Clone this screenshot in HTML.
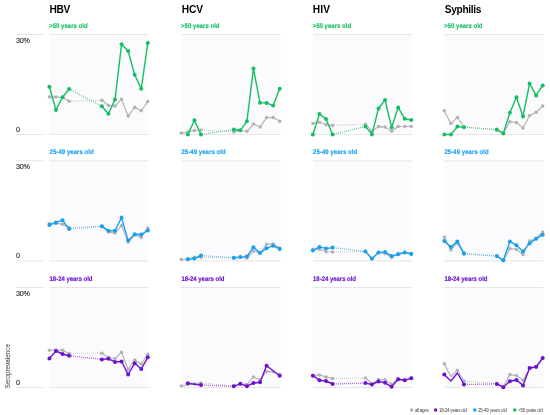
<!DOCTYPE html>
<html><head><meta charset="utf-8"><style>
html,body{margin:0;padding:0;background:#fff;width:550px;height:415px;overflow:hidden}
svg{display:block;will-change:transform}
text{font-family:"Liberation Sans",sans-serif}
.t{font-size:10.2px;font-weight:bold;fill:#000}
.s{font-size:6px;font-weight:bold;text-rendering:geometricPrecision;stroke-width:0.12px}
.a{font-size:7.2px;fill:#333;stroke:#333;stroke-width:0.15px}
.y{font-size:7.3px;fill:#2e2e2e}
.l{font-size:4.5px;fill:#444}
.g{stroke:#e6e6e9;stroke-width:1}
</style></head><body>
<svg width="550" height="415" viewBox="0 0 550 415">
<text x="49.47" y="12.6" class="t" textLength="20.85" lengthAdjust="spacing">HBV</text>
<text x="181.67" y="12.6" class="t" textLength="21.35" lengthAdjust="spacing">HCV</text>
<text x="312.67" y="12.6" class="t" textLength="17.35" lengthAdjust="spacing">HIV</text>
<text x="444.76" y="12.6" class="t" textLength="36.61" lengthAdjust="spacing">Syphilis</text>
<line x1="16" y1="34.5" x2="43.5" y2="34.5" class="g"/>
<line x1="16" y1="134.5" x2="43.5" y2="134.5" class="g"/>
<text x="16.08" y="42.7" class="a" textLength="13.83" lengthAdjust="spacing">30%</text>
<text x="16.07" y="131.8" class="a" textLength="4.26" lengthAdjust="spacing">0</text>
<rect x="49.5" y="34.5" width="99" height="100" fill="#fbfbfd"/>
<line x1="49.5" y1="34.5" x2="148.5" y2="34.5" class="g"/>
<line x1="49.5" y1="134.5" x2="148.5" y2="134.5" class="g"/>
<text transform="translate(49.2,27.55) scale(1,1.12)" class="s" textLength="38.45" lengthAdjust="spacing" fill="#14be63" stroke="#14be63">&gt;50 years old</text>
<rect x="181.4" y="34.5" width="99" height="100" fill="#fbfbfd"/>
<line x1="181.4" y1="34.5" x2="280.4" y2="34.5" class="g"/>
<line x1="181.4" y1="134.5" x2="280.4" y2="134.5" class="g"/>
<text transform="translate(181.1,27.55) scale(1,1.12)" class="s" textLength="38.45" lengthAdjust="spacing" fill="#14be63" stroke="#14be63">&gt;50 years old</text>
<rect x="313" y="34.5" width="99" height="100" fill="#fbfbfd"/>
<line x1="313" y1="34.5" x2="412" y2="34.5" class="g"/>
<line x1="313" y1="134.5" x2="412" y2="134.5" class="g"/>
<text transform="translate(312.7,27.55) scale(1,1.12)" class="s" textLength="38.45" lengthAdjust="spacing" fill="#14be63" stroke="#14be63">&gt;50 years old</text>
<rect x="444.4" y="34.5" width="99" height="100" fill="#fbfbfd"/>
<line x1="444.4" y1="34.5" x2="543.4" y2="34.5" class="g"/>
<line x1="444.4" y1="134.5" x2="543.4" y2="134.5" class="g"/>
<text transform="translate(444.1,27.55) scale(1,1.12)" class="s" textLength="38.45" lengthAdjust="spacing" fill="#14be63" stroke="#14be63">&gt;50 years old</text>
<line x1="16" y1="160.8" x2="43.5" y2="160.8" class="g"/>
<line x1="16" y1="261" x2="43.5" y2="261" class="g"/>
<text x="16.08" y="169" class="a" textLength="13.83" lengthAdjust="spacing">30%</text>
<text x="16.07" y="258.3" class="a" textLength="4.26" lengthAdjust="spacing">0</text>
<rect x="49.5" y="160.8" width="99" height="100.2" fill="#fbfbfd"/>
<line x1="49.5" y1="160.8" x2="148.5" y2="160.8" class="g"/>
<line x1="49.5" y1="261" x2="148.5" y2="261" class="g"/>
<text transform="translate(49.54,153.85) scale(1,1.12)" class="s" textLength="44.2" lengthAdjust="spacing" fill="#18a0f0" stroke="#18a0f0">25-49 years old</text>
<rect x="181.4" y="160.8" width="99" height="100.2" fill="#fbfbfd"/>
<line x1="181.4" y1="160.8" x2="280.4" y2="160.8" class="g"/>
<line x1="181.4" y1="261" x2="280.4" y2="261" class="g"/>
<text transform="translate(181.44,153.85) scale(1,1.12)" class="s" textLength="44.2" lengthAdjust="spacing" fill="#18a0f0" stroke="#18a0f0">25-49 years old</text>
<rect x="313" y="160.8" width="99" height="100.2" fill="#fbfbfd"/>
<line x1="313" y1="160.8" x2="412" y2="160.8" class="g"/>
<line x1="313" y1="261" x2="412" y2="261" class="g"/>
<text transform="translate(313.04,153.85) scale(1,1.12)" class="s" textLength="44.2" lengthAdjust="spacing" fill="#18a0f0" stroke="#18a0f0">25-49 years old</text>
<rect x="444.4" y="160.8" width="99" height="100.2" fill="#fbfbfd"/>
<line x1="444.4" y1="160.8" x2="543.4" y2="160.8" class="g"/>
<line x1="444.4" y1="261" x2="543.4" y2="261" class="g"/>
<text transform="translate(444.44,153.85) scale(1,1.12)" class="s" textLength="44.2" lengthAdjust="spacing" fill="#18a0f0" stroke="#18a0f0">25-49 years old</text>
<line x1="16" y1="287.5" x2="43.5" y2="287.5" class="g"/>
<line x1="16" y1="387.5" x2="43.5" y2="387.5" class="g"/>
<text x="16.08" y="295.7" class="a" textLength="13.83" lengthAdjust="spacing">30%</text>
<text x="16.07" y="384.8" class="a" textLength="4.26" lengthAdjust="spacing">0</text>
<rect x="49.5" y="287.5" width="99" height="100" fill="#fbfbfd"/>
<line x1="49.5" y1="287.5" x2="148.5" y2="287.5" class="g"/>
<line x1="49.5" y1="387.5" x2="148.5" y2="387.5" class="g"/>
<text transform="translate(49.57,280.55) scale(1,1.12)" class="s" textLength="42.97" lengthAdjust="spacing" fill="#6c10d2" stroke="#6c10d2">18-24 years old</text>
<rect x="181.4" y="287.5" width="99" height="100" fill="#fbfbfd"/>
<line x1="181.4" y1="287.5" x2="280.4" y2="287.5" class="g"/>
<line x1="181.4" y1="387.5" x2="280.4" y2="387.5" class="g"/>
<text transform="translate(181.47,280.55) scale(1,1.12)" class="s" textLength="42.97" lengthAdjust="spacing" fill="#6c10d2" stroke="#6c10d2">18-24 years old</text>
<rect x="313" y="287.5" width="99" height="100" fill="#fbfbfd"/>
<line x1="313" y1="287.5" x2="412" y2="287.5" class="g"/>
<line x1="313" y1="387.5" x2="412" y2="387.5" class="g"/>
<text transform="translate(313.07,280.55) scale(1,1.12)" class="s" textLength="42.97" lengthAdjust="spacing" fill="#6c10d2" stroke="#6c10d2">18-24 years old</text>
<rect x="444.4" y="287.5" width="99" height="100" fill="#fbfbfd"/>
<line x1="444.4" y1="287.5" x2="543.4" y2="287.5" class="g"/>
<line x1="444.4" y1="387.5" x2="543.4" y2="387.5" class="g"/>
<text transform="translate(444.47,280.55) scale(1,1.12)" class="s" textLength="42.97" lengthAdjust="spacing" fill="#6c10d2" stroke="#6c10d2">18-24 years old</text>
<path d="M71 100.63h1v1h-1zM73 100.57h1v1h-1zM75 100.5h1v1h-1zM77 100.44h1v1h-1zM79 100.38h1v1h-1zM81 100.32h1v1h-1zM83 100.26h1v1h-1zM85 100.2h1v1h-1zM87 100.14h1v1h-1zM89 100.08h1v1h-1zM91 100.02h1v1h-1zM93 99.96h1v1h-1zM95 99.89h1v1h-1zM97 99.83h1v1h-1zM99 99.77h1v1h-1z" fill="#b2b2b2" fill-opacity="0.65"/>
<polyline points="49.4,97.1 55.96,97.1 62.52,97.5 69.08,101.2" fill="none" stroke="#b2b2b2" stroke-width="1.15" stroke-linejoin="round"/>
<polyline points="101.88,100.2 108.44,105.5 115,106.1 121.56,99.2 128.12,116 134.68,107.3 141.24,110.8 147.8,101.5" fill="none" stroke="#b2b2b2" stroke-width="1.15" stroke-linejoin="round"/>
<circle cx="49.4" cy="97.1" r="1.75" fill="#b2b2b2"/>
<circle cx="55.96" cy="97.1" r="1.75" fill="#b2b2b2"/>
<circle cx="62.52" cy="97.5" r="1.75" fill="#b2b2b2"/>
<circle cx="69.08" cy="101.2" r="1.75" fill="#b2b2b2"/>
<circle cx="101.88" cy="100.2" r="1.75" fill="#b2b2b2"/>
<circle cx="108.44" cy="105.5" r="1.75" fill="#b2b2b2"/>
<circle cx="115" cy="106.1" r="1.75" fill="#b2b2b2"/>
<circle cx="121.56" cy="99.2" r="1.75" fill="#b2b2b2"/>
<circle cx="128.12" cy="116" r="1.75" fill="#b2b2b2"/>
<circle cx="134.68" cy="107.3" r="1.75" fill="#b2b2b2"/>
<circle cx="141.24" cy="110.8" r="1.75" fill="#b2b2b2"/>
<circle cx="147.8" cy="101.5" r="1.75" fill="#b2b2b2"/>
<path d="M71 226.82h1v1h-1zM73 226.75h1v1h-1zM75 226.68h1v1h-1zM77 226.62h1v1h-1zM79 226.55h1v1h-1zM81 226.48h1v1h-1zM83 226.42h1v1h-1zM85 226.35h1v1h-1zM87 226.28h1v1h-1zM89 226.21h1v1h-1zM91 226.15h1v1h-1zM93 226.08h1v1h-1zM95 226.01h1v1h-1zM97 225.95h1v1h-1zM99 225.88h1v1h-1z" fill="#b2b2b2" fill-opacity="0.65"/>
<polyline points="49.4,223.6 55.96,223.4 62.52,224.3 69.08,227.4" fill="none" stroke="#b2b2b2" stroke-width="1.15" stroke-linejoin="round"/>
<polyline points="101.88,226.3 108.44,232 115,233.1 121.56,225.6 128.12,242.1 134.68,235 141.24,237.4 147.8,227.9" fill="none" stroke="#b2b2b2" stroke-width="1.15" stroke-linejoin="round"/>
<circle cx="49.4" cy="223.6" r="1.75" fill="#b2b2b2"/>
<circle cx="55.96" cy="223.4" r="1.75" fill="#b2b2b2"/>
<circle cx="62.52" cy="224.3" r="1.75" fill="#b2b2b2"/>
<circle cx="69.08" cy="227.4" r="1.75" fill="#b2b2b2"/>
<circle cx="101.88" cy="226.3" r="1.75" fill="#b2b2b2"/>
<circle cx="108.44" cy="232" r="1.75" fill="#b2b2b2"/>
<circle cx="115" cy="233.1" r="1.75" fill="#b2b2b2"/>
<circle cx="121.56" cy="225.6" r="1.75" fill="#b2b2b2"/>
<circle cx="128.12" cy="242.1" r="1.75" fill="#b2b2b2"/>
<circle cx="134.68" cy="235" r="1.75" fill="#b2b2b2"/>
<circle cx="141.24" cy="237.4" r="1.75" fill="#b2b2b2"/>
<circle cx="147.8" cy="227.9" r="1.75" fill="#b2b2b2"/>
<path d="M71 352.89h1v1h-1zM73 352.89h1v1h-1zM75 352.88h1v1h-1zM77 352.87h1v1h-1zM79 352.87h1v1h-1zM81 352.86h1v1h-1zM83 352.86h1v1h-1zM85 352.85h1v1h-1zM87 352.84h1v1h-1zM89 352.84h1v1h-1zM91 352.83h1v1h-1zM93 352.83h1v1h-1zM95 352.82h1v1h-1zM97 352.81h1v1h-1zM99 352.81h1v1h-1z" fill="#b2b2b2" fill-opacity="0.65"/>
<polyline points="49.4,350.3 55.96,350 62.52,350.2 69.08,353.4" fill="none" stroke="#b2b2b2" stroke-width="1.15" stroke-linejoin="round"/>
<polyline points="101.88,353.3 108.44,357.3 115,358.7 121.56,352.2 128.12,369.5 134.68,360 141.24,364 147.8,354.3" fill="none" stroke="#b2b2b2" stroke-width="1.15" stroke-linejoin="round"/>
<circle cx="49.4" cy="350.3" r="1.75" fill="#b2b2b2"/>
<circle cx="55.96" cy="350" r="1.75" fill="#b2b2b2"/>
<circle cx="62.52" cy="350.2" r="1.75" fill="#b2b2b2"/>
<circle cx="69.08" cy="353.4" r="1.75" fill="#b2b2b2"/>
<circle cx="101.88" cy="353.3" r="1.75" fill="#b2b2b2"/>
<circle cx="108.44" cy="357.3" r="1.75" fill="#b2b2b2"/>
<circle cx="115" cy="358.7" r="1.75" fill="#b2b2b2"/>
<circle cx="121.56" cy="352.2" r="1.75" fill="#b2b2b2"/>
<circle cx="128.12" cy="369.5" r="1.75" fill="#b2b2b2"/>
<circle cx="134.68" cy="360" r="1.75" fill="#b2b2b2"/>
<circle cx="141.24" cy="364" r="1.75" fill="#b2b2b2"/>
<circle cx="147.8" cy="354.3" r="1.75" fill="#b2b2b2"/>
<path d="M202 129.59h1v1h-1zM204 129.7h1v1h-1zM206 129.82h1v1h-1zM208 129.93h1v1h-1zM210 130.05h1v1h-1zM212 130.17h1v1h-1zM214 130.28h1v1h-1zM216 130.4h1v1h-1zM218 130.51h1v1h-1zM220 130.63h1v1h-1zM222 130.75h1v1h-1zM224 130.86h1v1h-1zM226 130.98h1v1h-1zM228 131.09h1v1h-1zM230 131.21h1v1h-1z" fill="#b2b2b2" fill-opacity="0.65"/>
<polyline points="181.3,133.1 187.86,132 194.42,130.5 200.98,130" fill="none" stroke="#b2b2b2" stroke-width="1.15" stroke-linejoin="round"/>
<polyline points="233.78,131.9 240.34,130.5 246.9,131.3 253.46,124.1 260.02,127.1 266.58,117.6 273.14,117.6 279.7,121.3" fill="none" stroke="#b2b2b2" stroke-width="1.15" stroke-linejoin="round"/>
<circle cx="181.3" cy="133.1" r="1.75" fill="#b2b2b2"/>
<circle cx="187.86" cy="132" r="1.75" fill="#b2b2b2"/>
<circle cx="194.42" cy="130.5" r="1.75" fill="#b2b2b2"/>
<circle cx="200.98" cy="130" r="1.75" fill="#b2b2b2"/>
<circle cx="233.78" cy="131.9" r="1.75" fill="#b2b2b2"/>
<circle cx="240.34" cy="130.5" r="1.75" fill="#b2b2b2"/>
<circle cx="246.9" cy="131.3" r="1.75" fill="#b2b2b2"/>
<circle cx="253.46" cy="124.1" r="1.75" fill="#b2b2b2"/>
<circle cx="260.02" cy="127.1" r="1.75" fill="#b2b2b2"/>
<circle cx="266.58" cy="117.6" r="1.75" fill="#b2b2b2"/>
<circle cx="273.14" cy="117.6" r="1.75" fill="#b2b2b2"/>
<circle cx="279.7" cy="121.3" r="1.75" fill="#b2b2b2"/>
<path d="M202 256.93h1v1h-1zM204 256.96h1v1h-1zM206 257h1v1h-1zM208 257.04h1v1h-1zM210 257.07h1v1h-1zM212 257.11h1v1h-1zM214 257.15h1v1h-1zM216 257.18h1v1h-1zM218 257.22h1v1h-1zM220 257.26h1v1h-1zM222 257.29h1v1h-1zM224 257.33h1v1h-1zM226 257.37h1v1h-1zM228 257.4h1v1h-1zM230 257.44h1v1h-1z" fill="#b2b2b2" fill-opacity="0.65"/>
<polyline points="181.3,259.5 187.86,259 194.42,257.2 200.98,257.4" fill="none" stroke="#b2b2b2" stroke-width="1.15" stroke-linejoin="round"/>
<polyline points="233.78,258 240.34,257.2 246.9,258 253.46,251.1 260.02,253.1 266.58,244.3 273.14,244.1 279.7,248" fill="none" stroke="#b2b2b2" stroke-width="1.15" stroke-linejoin="round"/>
<circle cx="181.3" cy="259.5" r="1.75" fill="#b2b2b2"/>
<circle cx="187.86" cy="259" r="1.75" fill="#b2b2b2"/>
<circle cx="194.42" cy="257.2" r="1.75" fill="#b2b2b2"/>
<circle cx="200.98" cy="257.4" r="1.75" fill="#b2b2b2"/>
<circle cx="233.78" cy="258" r="1.75" fill="#b2b2b2"/>
<circle cx="240.34" cy="257.2" r="1.75" fill="#b2b2b2"/>
<circle cx="246.9" cy="258" r="1.75" fill="#b2b2b2"/>
<circle cx="253.46" cy="251.1" r="1.75" fill="#b2b2b2"/>
<circle cx="260.02" cy="253.1" r="1.75" fill="#b2b2b2"/>
<circle cx="266.58" cy="244.3" r="1.75" fill="#b2b2b2"/>
<circle cx="273.14" cy="244.1" r="1.75" fill="#b2b2b2"/>
<circle cx="279.7" cy="248" r="1.75" fill="#b2b2b2"/>
<path d="M202 382.54h1v1h-1zM204 382.73h1v1h-1zM206 382.92h1v1h-1zM208 383.11h1v1h-1zM210 383.3h1v1h-1zM212 383.49h1v1h-1zM214 383.68h1v1h-1zM216 383.86h1v1h-1zM218 384.05h1v1h-1zM220 384.24h1v1h-1zM222 384.43h1v1h-1zM224 384.62h1v1h-1zM226 384.81h1v1h-1zM228 385h1v1h-1zM230 385.19h1v1h-1z" fill="#b2b2b2" fill-opacity="0.65"/>
<polyline points="181.3,386.1 187.86,384.5 194.42,383.8 200.98,382.9" fill="none" stroke="#b2b2b2" stroke-width="1.15" stroke-linejoin="round"/>
<polyline points="233.78,386 240.34,384 246.9,384.4 253.46,377.1 260.02,379.8 266.58,371.4 273.14,371.8 279.7,374.5" fill="none" stroke="#b2b2b2" stroke-width="1.15" stroke-linejoin="round"/>
<circle cx="181.3" cy="386.1" r="1.75" fill="#b2b2b2"/>
<circle cx="187.86" cy="384.5" r="1.75" fill="#b2b2b2"/>
<circle cx="194.42" cy="383.8" r="1.75" fill="#b2b2b2"/>
<circle cx="200.98" cy="382.9" r="1.75" fill="#b2b2b2"/>
<circle cx="233.78" cy="386" r="1.75" fill="#b2b2b2"/>
<circle cx="240.34" cy="384" r="1.75" fill="#b2b2b2"/>
<circle cx="246.9" cy="384.4" r="1.75" fill="#b2b2b2"/>
<circle cx="253.46" cy="377.1" r="1.75" fill="#b2b2b2"/>
<circle cx="260.02" cy="379.8" r="1.75" fill="#b2b2b2"/>
<circle cx="266.58" cy="371.4" r="1.75" fill="#b2b2b2"/>
<circle cx="273.14" cy="371.8" r="1.75" fill="#b2b2b2"/>
<circle cx="279.7" cy="374.5" r="1.75" fill="#b2b2b2"/>
<path d="M334 124.83h1v1h-1zM336 124.76h1v1h-1zM338 124.68h1v1h-1zM340 124.61h1v1h-1zM342 124.54h1v1h-1zM344 124.46h1v1h-1zM346 124.39h1v1h-1zM348 124.32h1v1h-1zM350 124.24h1v1h-1zM352 124.17h1v1h-1zM354 124.1h1v1h-1zM356 124.02h1v1h-1zM358 123.95h1v1h-1zM360 123.88h1v1h-1zM362 123.81h1v1h-1z" fill="#b2b2b2" fill-opacity="0.65"/>
<polyline points="312.9,123.4 319.46,122.2 326.02,124.8 332.58,125.4" fill="none" stroke="#b2b2b2" stroke-width="1.15" stroke-linejoin="round"/>
<polyline points="365.38,124.2 371.94,131.3 378.5,126.6 385.06,126.9 391.62,131.2 398.18,126.5 404.74,126.5 411.3,126.4" fill="none" stroke="#b2b2b2" stroke-width="1.15" stroke-linejoin="round"/>
<circle cx="312.9" cy="123.4" r="1.75" fill="#b2b2b2"/>
<circle cx="319.46" cy="122.2" r="1.75" fill="#b2b2b2"/>
<circle cx="326.02" cy="124.8" r="1.75" fill="#b2b2b2"/>
<circle cx="332.58" cy="125.4" r="1.75" fill="#b2b2b2"/>
<circle cx="365.38" cy="124.2" r="1.75" fill="#b2b2b2"/>
<circle cx="371.94" cy="131.3" r="1.75" fill="#b2b2b2"/>
<circle cx="378.5" cy="126.6" r="1.75" fill="#b2b2b2"/>
<circle cx="385.06" cy="126.9" r="1.75" fill="#b2b2b2"/>
<circle cx="391.62" cy="131.2" r="1.75" fill="#b2b2b2"/>
<circle cx="398.18" cy="126.5" r="1.75" fill="#b2b2b2"/>
<circle cx="404.74" cy="126.5" r="1.75" fill="#b2b2b2"/>
<circle cx="411.3" cy="126.4" r="1.75" fill="#b2b2b2"/>
<path d="M334 251.46h1v1h-1zM336 251.43h1v1h-1zM338 251.39h1v1h-1zM340 251.36h1v1h-1zM342 251.32h1v1h-1zM344 251.28h1v1h-1zM346 251.25h1v1h-1zM348 251.21h1v1h-1zM350 251.17h1v1h-1zM352 251.14h1v1h-1zM354 251.1h1v1h-1zM356 251.06h1v1h-1zM358 251.03h1v1h-1zM360 250.99h1v1h-1zM362 250.95h1v1h-1z" fill="#b2b2b2" fill-opacity="0.65"/>
<polyline points="312.9,249.3 319.46,249.3 326.02,251.7 332.58,252" fill="none" stroke="#b2b2b2" stroke-width="1.15" stroke-linejoin="round"/>
<polyline points="365.38,251.4 371.94,258.2 378.5,252.6 385.06,253.5 391.62,257.4 398.18,253.5 404.74,252.4 411.3,253.3" fill="none" stroke="#b2b2b2" stroke-width="1.15" stroke-linejoin="round"/>
<circle cx="312.9" cy="249.3" r="1.75" fill="#b2b2b2"/>
<circle cx="319.46" cy="249.3" r="1.75" fill="#b2b2b2"/>
<circle cx="326.02" cy="251.7" r="1.75" fill="#b2b2b2"/>
<circle cx="332.58" cy="252" r="1.75" fill="#b2b2b2"/>
<circle cx="365.38" cy="251.4" r="1.75" fill="#b2b2b2"/>
<circle cx="371.94" cy="258.2" r="1.75" fill="#b2b2b2"/>
<circle cx="378.5" cy="252.6" r="1.75" fill="#b2b2b2"/>
<circle cx="385.06" cy="253.5" r="1.75" fill="#b2b2b2"/>
<circle cx="391.62" cy="257.4" r="1.75" fill="#b2b2b2"/>
<circle cx="398.18" cy="253.5" r="1.75" fill="#b2b2b2"/>
<circle cx="404.74" cy="252.4" r="1.75" fill="#b2b2b2"/>
<circle cx="411.3" cy="253.3" r="1.75" fill="#b2b2b2"/>
<path d="M334 377.88h1v1h-1zM336 377.85h1v1h-1zM338 377.83h1v1h-1zM340 377.8h1v1h-1zM342 377.78h1v1h-1zM344 377.75h1v1h-1zM346 377.73h1v1h-1zM348 377.71h1v1h-1zM350 377.68h1v1h-1zM352 377.66h1v1h-1zM354 377.63h1v1h-1zM356 377.61h1v1h-1zM358 377.58h1v1h-1zM360 377.56h1v1h-1zM362 377.54h1v1h-1z" fill="#b2b2b2" fill-opacity="0.65"/>
<polyline points="312.9,375.5 319.46,374.9 326.02,377 332.58,378.4" fill="none" stroke="#b2b2b2" stroke-width="1.15" stroke-linejoin="round"/>
<polyline points="365.38,378 371.94,383.7 378.5,379.5 385.06,379.7 391.62,384.2 398.18,379 404.74,380 411.3,378" fill="none" stroke="#b2b2b2" stroke-width="1.15" stroke-linejoin="round"/>
<circle cx="312.9" cy="375.5" r="1.75" fill="#b2b2b2"/>
<circle cx="319.46" cy="374.9" r="1.75" fill="#b2b2b2"/>
<circle cx="326.02" cy="377" r="1.75" fill="#b2b2b2"/>
<circle cx="332.58" cy="378.4" r="1.75" fill="#b2b2b2"/>
<circle cx="365.38" cy="378" r="1.75" fill="#b2b2b2"/>
<circle cx="371.94" cy="383.7" r="1.75" fill="#b2b2b2"/>
<circle cx="378.5" cy="379.5" r="1.75" fill="#b2b2b2"/>
<circle cx="385.06" cy="379.7" r="1.75" fill="#b2b2b2"/>
<circle cx="391.62" cy="384.2" r="1.75" fill="#b2b2b2"/>
<circle cx="398.18" cy="379" r="1.75" fill="#b2b2b2"/>
<circle cx="404.74" cy="380" r="1.75" fill="#b2b2b2"/>
<circle cx="411.3" cy="378" r="1.75" fill="#b2b2b2"/>
<path d="M465 126.61h1v1h-1zM467 126.75h1v1h-1zM469 126.89h1v1h-1zM471 127.03h1v1h-1zM473 127.17h1v1h-1zM475 127.31h1v1h-1zM477 127.45h1v1h-1zM479 127.59h1v1h-1zM481 127.73h1v1h-1zM483 127.87h1v1h-1zM485 128.01h1v1h-1zM487 128.15h1v1h-1zM489 128.29h1v1h-1zM491 128.43h1v1h-1zM493 128.57h1v1h-1z" fill="#b2b2b2" fill-opacity="0.65"/>
<polyline points="444.3,110.8 450.86,123.6 457.42,117.4 463.98,127" fill="none" stroke="#b2b2b2" stroke-width="1.15" stroke-linejoin="round"/>
<polyline points="496.78,129.3 503.34,133 509.9,121.8 516.46,122.5 523.02,127.9 529.58,115.5 536.14,112.3 542.7,106" fill="none" stroke="#b2b2b2" stroke-width="1.15" stroke-linejoin="round"/>
<circle cx="444.3" cy="110.8" r="1.75" fill="#b2b2b2"/>
<circle cx="450.86" cy="123.6" r="1.75" fill="#b2b2b2"/>
<circle cx="457.42" cy="117.4" r="1.75" fill="#b2b2b2"/>
<circle cx="463.98" cy="127" r="1.75" fill="#b2b2b2"/>
<circle cx="496.78" cy="129.3" r="1.75" fill="#b2b2b2"/>
<circle cx="503.34" cy="133" r="1.75" fill="#b2b2b2"/>
<circle cx="509.9" cy="121.8" r="1.75" fill="#b2b2b2"/>
<circle cx="516.46" cy="122.5" r="1.75" fill="#b2b2b2"/>
<circle cx="523.02" cy="127.9" r="1.75" fill="#b2b2b2"/>
<circle cx="529.58" cy="115.5" r="1.75" fill="#b2b2b2"/>
<circle cx="536.14" cy="112.3" r="1.75" fill="#b2b2b2"/>
<circle cx="542.7" cy="106" r="1.75" fill="#b2b2b2"/>
<path d="M465 254.07h1v1h-1zM467 254.16h1v1h-1zM469 254.25h1v1h-1zM471 254.34h1v1h-1zM473 254.43h1v1h-1zM475 254.53h1v1h-1zM477 254.62h1v1h-1zM479 254.71h1v1h-1zM481 254.8h1v1h-1zM483 254.89h1v1h-1zM485 254.98h1v1h-1zM487 255.08h1v1h-1zM489 255.17h1v1h-1zM491 255.26h1v1h-1zM493 255.35h1v1h-1z" fill="#b2b2b2" fill-opacity="0.65"/>
<polyline points="444.3,237.3 450.86,249.9 457.42,243.1 463.98,254.5" fill="none" stroke="#b2b2b2" stroke-width="1.15" stroke-linejoin="round"/>
<polyline points="496.78,256 503.34,260.8 509.9,248.6 516.46,249.4 523.02,254.5 529.58,241.1 536.14,238.5 542.7,232" fill="none" stroke="#b2b2b2" stroke-width="1.15" stroke-linejoin="round"/>
<circle cx="444.3" cy="237.3" r="1.75" fill="#b2b2b2"/>
<circle cx="450.86" cy="249.9" r="1.75" fill="#b2b2b2"/>
<circle cx="457.42" cy="243.1" r="1.75" fill="#b2b2b2"/>
<circle cx="463.98" cy="254.5" r="1.75" fill="#b2b2b2"/>
<circle cx="496.78" cy="256" r="1.75" fill="#b2b2b2"/>
<circle cx="503.34" cy="260.8" r="1.75" fill="#b2b2b2"/>
<circle cx="509.9" cy="248.6" r="1.75" fill="#b2b2b2"/>
<circle cx="516.46" cy="249.4" r="1.75" fill="#b2b2b2"/>
<circle cx="523.02" cy="254.5" r="1.75" fill="#b2b2b2"/>
<circle cx="529.58" cy="241.1" r="1.75" fill="#b2b2b2"/>
<circle cx="536.14" cy="238.5" r="1.75" fill="#b2b2b2"/>
<circle cx="542.7" cy="232" r="1.75" fill="#b2b2b2"/>
<path d="M465 380.61h1v1h-1zM467 380.77h1v1h-1zM469 380.92h1v1h-1zM471 381.07h1v1h-1zM473 381.22h1v1h-1zM475 381.38h1v1h-1zM477 381.53h1v1h-1zM479 381.68h1v1h-1zM481 381.83h1v1h-1zM483 381.99h1v1h-1zM485 382.14h1v1h-1zM487 382.29h1v1h-1zM489 382.44h1v1h-1zM491 382.6h1v1h-1zM493 382.75h1v1h-1z" fill="#b2b2b2" fill-opacity="0.65"/>
<polyline points="444.3,363.8 450.86,376.5 457.42,370.3 463.98,381" fill="none" stroke="#b2b2b2" stroke-width="1.15" stroke-linejoin="round"/>
<polyline points="496.78,383.5 503.34,387 509.9,374.6 516.46,375.6 523.02,380.2 529.58,368.5 536.14,367.5 542.7,358.5" fill="none" stroke="#b2b2b2" stroke-width="1.15" stroke-linejoin="round"/>
<circle cx="444.3" cy="363.8" r="1.75" fill="#b2b2b2"/>
<circle cx="457.42" cy="370.3" r="1.75" fill="#b2b2b2"/>
<circle cx="463.98" cy="381" r="1.75" fill="#b2b2b2"/>
<circle cx="496.78" cy="383.5" r="1.75" fill="#b2b2b2"/>
<circle cx="503.34" cy="387" r="1.75" fill="#b2b2b2"/>
<circle cx="509.9" cy="374.6" r="1.75" fill="#b2b2b2"/>
<circle cx="516.46" cy="375.6" r="1.75" fill="#b2b2b2"/>
<circle cx="523.02" cy="380.2" r="1.75" fill="#b2b2b2"/>
<circle cx="529.58" cy="368.5" r="1.75" fill="#b2b2b2"/>
<circle cx="536.14" cy="367.5" r="1.75" fill="#b2b2b2"/>
<circle cx="542.7" cy="358.5" r="1.75" fill="#b2b2b2"/>
<path d="M71 89.54h1v1.47h-1zM73 90.58h1v1.47h-1zM75 91.63h1v1.47h-1zM77 92.68h1v1.47h-1zM79 93.73h1v1.47h-1zM81 94.78h1v1.47h-1zM83 95.83h1v1.47h-1zM85 96.88h1v1.47h-1zM87 97.93h1v1.47h-1zM89 98.97h1v1.47h-1zM91 100.02h1v1.47h-1zM93 101.07h1v1.47h-1zM95 102.12h1v1.47h-1zM97 103.17h1v1.47h-1zM99 104.22h1v1.47h-1z" fill="#14be63" fill-opacity="0.6"/>
<polyline points="49.4,86.8 55.96,109.9 62.52,97.2 69.08,89" fill="none" stroke="#14be63" stroke-width="1.4" stroke-linejoin="round"/>
<polyline points="101.88,106.2 108.44,113.8 115,99.6 121.56,44.3 128.12,51 134.68,74.7 141.24,88.8 147.8,43.1" fill="none" stroke="#14be63" stroke-width="1.4" stroke-linejoin="round"/>
<circle cx="49.4" cy="86.8" r="2" fill="#14be63"/>
<circle cx="55.96" cy="109.9" r="2" fill="#14be63"/>
<circle cx="62.52" cy="97.2" r="2" fill="#14be63"/>
<circle cx="69.08" cy="89" r="2" fill="#14be63"/>
<circle cx="101.88" cy="106.2" r="2" fill="#14be63"/>
<circle cx="108.44" cy="113.8" r="2" fill="#14be63"/>
<circle cx="115" cy="99.6" r="2" fill="#14be63"/>
<circle cx="121.56" cy="44.3" r="2" fill="#14be63"/>
<circle cx="128.12" cy="51" r="2" fill="#14be63"/>
<circle cx="134.68" cy="74.7" r="2" fill="#14be63"/>
<circle cx="141.24" cy="88.8" r="2" fill="#14be63"/>
<circle cx="147.8" cy="43.1" r="2" fill="#14be63"/>
<path d="M71 228.15h1v1.3h-1zM73 227.98h1v1.3h-1zM75 227.82h1v1.3h-1zM77 227.65h1v1.3h-1zM79 227.49h1v1.3h-1zM81 227.33h1v1.3h-1zM83 227.16h1v1.3h-1zM85 227h1v1.3h-1zM87 226.83h1v1.3h-1zM89 226.67h1v1.3h-1zM91 226.5h1v1.3h-1zM93 226.34h1v1.3h-1zM95 226.17h1v1.3h-1zM97 226.01h1v1.3h-1zM99 225.84h1v1.3h-1z" fill="#18a0f0" fill-opacity="0.6"/>
<polyline points="49.4,225 55.96,222.4 62.52,220.2 69.08,229" fill="none" stroke="#18a0f0" stroke-width="1.4" stroke-linejoin="round"/>
<polyline points="101.88,226.3 108.44,230.7 115,230.7 121.56,217.6 128.12,240.6 134.68,234.3 141.24,234.5 147.8,230.5" fill="none" stroke="#18a0f0" stroke-width="1.4" stroke-linejoin="round"/>
<circle cx="49.4" cy="225" r="2" fill="#18a0f0"/>
<circle cx="55.96" cy="222.4" r="2" fill="#18a0f0"/>
<circle cx="62.52" cy="220.2" r="2" fill="#18a0f0"/>
<circle cx="69.08" cy="229" r="2" fill="#18a0f0"/>
<circle cx="101.88" cy="226.3" r="2" fill="#18a0f0"/>
<circle cx="108.44" cy="230.7" r="2" fill="#18a0f0"/>
<circle cx="115" cy="230.7" r="2" fill="#18a0f0"/>
<circle cx="121.56" cy="217.6" r="2" fill="#18a0f0"/>
<circle cx="128.12" cy="240.6" r="2" fill="#18a0f0"/>
<circle cx="134.68" cy="234.3" r="2" fill="#18a0f0"/>
<circle cx="141.24" cy="234.5" r="2" fill="#18a0f0"/>
<circle cx="147.8" cy="230.5" r="2" fill="#18a0f0"/>
<path d="M71 355.32h1v1.31h-1zM73 355.54h1v1.31h-1zM75 355.77h1v1.31h-1zM77 356h1v1.31h-1zM79 356.22h1v1.31h-1zM81 356.45h1v1.31h-1zM83 356.67h1v1.31h-1zM85 356.9h1v1.31h-1zM87 357.12h1v1.31h-1zM89 357.35h1v1.31h-1zM91 357.57h1v1.31h-1zM93 357.8h1v1.31h-1zM95 358.03h1v1.31h-1zM97 358.25h1v1.31h-1zM99 358.48h1v1.31h-1z" fill="#6c10d2" fill-opacity="0.6"/>
<polyline points="49.4,358.4 55.96,351 62.52,354 69.08,355.7" fill="none" stroke="#6c10d2" stroke-width="1.4" stroke-linejoin="round"/>
<polyline points="101.88,359.4 108.44,358.8 115,361.9 121.56,361.5 128.12,374.5 134.68,363.2 141.24,369 147.8,357.3" fill="none" stroke="#6c10d2" stroke-width="1.4" stroke-linejoin="round"/>
<circle cx="49.4" cy="358.4" r="2" fill="#6c10d2"/>
<circle cx="55.96" cy="351" r="2" fill="#6c10d2"/>
<circle cx="62.52" cy="354" r="2" fill="#6c10d2"/>
<circle cx="69.08" cy="355.7" r="2" fill="#6c10d2"/>
<circle cx="101.88" cy="359.4" r="2" fill="#6c10d2"/>
<circle cx="108.44" cy="358.8" r="2" fill="#6c10d2"/>
<circle cx="115" cy="361.9" r="2" fill="#6c10d2"/>
<circle cx="121.56" cy="361.5" r="2" fill="#6c10d2"/>
<circle cx="128.12" cy="374.5" r="2" fill="#6c10d2"/>
<circle cx="134.68" cy="363.2" r="2" fill="#6c10d2"/>
<circle cx="141.24" cy="369" r="2" fill="#6c10d2"/>
<circle cx="147.8" cy="357.3" r="2" fill="#6c10d2"/>
<path d="M202 133.61h1v1.32h-1zM204 133.31h1v1.32h-1zM206 133h1v1.32h-1zM208 132.7h1v1.32h-1zM210 132.39h1v1.32h-1zM212 132.09h1v1.32h-1zM214 131.78h1v1.32h-1zM216 131.48h1v1.32h-1zM218 131.17h1v1.32h-1zM220 130.87h1v1.32h-1zM222 130.56h1v1.32h-1zM224 130.26h1v1.32h-1zM226 129.95h1v1.32h-1zM228 129.65h1v1.32h-1zM230 129.34h1v1.32h-1z" fill="#14be63" fill-opacity="0.6"/>
<polyline points="187.86,134.5 194.42,120.3 200.98,134.5" fill="none" stroke="#14be63" stroke-width="1.4" stroke-linejoin="round"/>
<polyline points="233.78,129.5 240.34,130.3 246.9,121.3 253.46,68.6 260.02,102.8 266.58,102.9 273.14,105.6 279.7,88.8" fill="none" stroke="#14be63" stroke-width="1.4" stroke-linejoin="round"/>
<circle cx="187.86" cy="134.5" r="2" fill="#14be63"/>
<circle cx="194.42" cy="120.3" r="2" fill="#14be63"/>
<circle cx="200.98" cy="134.5" r="2" fill="#14be63"/>
<circle cx="233.78" cy="129.5" r="2" fill="#14be63"/>
<circle cx="240.34" cy="130.3" r="2" fill="#14be63"/>
<circle cx="246.9" cy="121.3" r="2" fill="#14be63"/>
<circle cx="253.46" cy="68.6" r="2" fill="#14be63"/>
<circle cx="260.02" cy="102.8" r="2" fill="#14be63"/>
<circle cx="266.58" cy="102.9" r="2" fill="#14be63"/>
<circle cx="273.14" cy="105.6" r="2" fill="#14be63"/>
<circle cx="279.7" cy="88.8" r="2" fill="#14be63"/>
<path d="M202 254.95h1v1.3h-1zM204 255.1h1v1.3h-1zM206 255.24h1v1.3h-1zM208 255.38h1v1.3h-1zM210 255.52h1v1.3h-1zM212 255.66h1v1.3h-1zM214 255.8h1v1.3h-1zM216 255.94h1v1.3h-1zM218 256.08h1v1.3h-1zM220 256.22h1v1.3h-1zM222 256.36h1v1.3h-1zM224 256.5h1v1.3h-1zM226 256.64h1v1.3h-1zM228 256.78h1v1.3h-1zM230 256.92h1v1.3h-1z" fill="#18a0f0" fill-opacity="0.6"/>
<polyline points="187.86,259.2 194.42,258.6 200.98,255.5" fill="none" stroke="#18a0f0" stroke-width="1.4" stroke-linejoin="round"/>
<polyline points="233.78,257.8 240.34,257.1 246.9,256.6 253.46,247.2 260.02,253.1 266.58,248.3 273.14,245.7 279.7,249" fill="none" stroke="#18a0f0" stroke-width="1.4" stroke-linejoin="round"/>
<circle cx="187.86" cy="259.2" r="2" fill="#18a0f0"/>
<circle cx="194.42" cy="258.6" r="2" fill="#18a0f0"/>
<circle cx="200.98" cy="255.5" r="2" fill="#18a0f0"/>
<circle cx="233.78" cy="257.8" r="2" fill="#18a0f0"/>
<circle cx="240.34" cy="257.1" r="2" fill="#18a0f0"/>
<circle cx="246.9" cy="256.6" r="2" fill="#18a0f0"/>
<circle cx="253.46" cy="247.2" r="2" fill="#18a0f0"/>
<circle cx="260.02" cy="253.1" r="2" fill="#18a0f0"/>
<circle cx="266.58" cy="248.3" r="2" fill="#18a0f0"/>
<circle cx="273.14" cy="245.7" r="2" fill="#18a0f0"/>
<circle cx="279.7" cy="249" r="2" fill="#18a0f0"/>
<path d="M202 384.51h1v1.3h-1zM204 384.58h1v1.3h-1zM206 384.65h1v1.3h-1zM208 384.72h1v1.3h-1zM210 384.8h1v1.3h-1zM212 384.87h1v1.3h-1zM214 384.94h1v1.3h-1zM216 385.02h1v1.3h-1zM218 385.09h1v1.3h-1zM220 385.16h1v1.3h-1zM222 385.24h1v1.3h-1zM224 385.31h1v1.3h-1zM226 385.38h1v1.3h-1zM228 385.46h1v1.3h-1zM230 385.53h1v1.3h-1z" fill="#6c10d2" fill-opacity="0.6"/>
<polyline points="187.86,383.3 194.42,384.2 200.98,385.1" fill="none" stroke="#6c10d2" stroke-width="1.4" stroke-linejoin="round"/>
<polyline points="233.78,386.3 240.34,383.8 246.9,386.2 253.46,383 260.02,382.3 266.58,365.7 273.14,370.75 279.7,375.8" fill="none" stroke="#6c10d2" stroke-width="1.4" stroke-linejoin="round"/>
<circle cx="187.86" cy="383.3" r="2" fill="#6c10d2"/>
<circle cx="200.98" cy="385.1" r="2" fill="#6c10d2"/>
<circle cx="233.78" cy="386.3" r="2" fill="#6c10d2"/>
<circle cx="240.34" cy="383.8" r="2" fill="#6c10d2"/>
<circle cx="246.9" cy="386.2" r="2" fill="#6c10d2"/>
<circle cx="253.46" cy="383" r="2" fill="#6c10d2"/>
<circle cx="260.02" cy="382.3" r="2" fill="#6c10d2"/>
<circle cx="266.58" cy="365.7" r="2" fill="#6c10d2"/>
<circle cx="279.7" cy="375.8" r="2" fill="#6c10d2"/>
<path d="M334 133.36h1v1.34h-1zM336 132.86h1v1.34h-1zM338 132.37h1v1.34h-1zM340 131.87h1v1.34h-1zM342 131.38h1v1.34h-1zM344 130.89h1v1.34h-1zM346 130.39h1v1.34h-1zM348 129.9h1v1.34h-1zM350 129.41h1v1.34h-1zM352 128.91h1v1.34h-1zM354 128.42h1v1.34h-1zM356 127.92h1v1.34h-1zM358 127.43h1v1.34h-1zM360 126.94h1v1.34h-1zM362 126.44h1v1.34h-1z" fill="#14be63" fill-opacity="0.6"/>
<polyline points="312.9,134.5 319.46,114 326.02,119.1 332.58,134.5" fill="none" stroke="#14be63" stroke-width="1.4" stroke-linejoin="round"/>
<polyline points="365.38,126.4 371.94,134.4 378.5,108.5 385.06,100 391.62,127.5 398.18,107.5 404.74,118.7 411.3,120.1" fill="none" stroke="#14be63" stroke-width="1.4" stroke-linejoin="round"/>
<circle cx="312.9" cy="134.5" r="2" fill="#14be63"/>
<circle cx="319.46" cy="114" r="2" fill="#14be63"/>
<circle cx="326.02" cy="119.1" r="2" fill="#14be63"/>
<circle cx="332.58" cy="134.5" r="2" fill="#14be63"/>
<circle cx="365.38" cy="126.4" r="2" fill="#14be63"/>
<circle cx="371.94" cy="134.4" r="2" fill="#14be63"/>
<circle cx="378.5" cy="108.5" r="2" fill="#14be63"/>
<circle cx="385.06" cy="100" r="2" fill="#14be63"/>
<circle cx="391.62" cy="127.5" r="2" fill="#14be63"/>
<circle cx="398.18" cy="107.5" r="2" fill="#14be63"/>
<circle cx="404.74" cy="118.7" r="2" fill="#14be63"/>
<circle cx="411.3" cy="120.1" r="2" fill="#14be63"/>
<path d="M334 247.17h1v1.31h-1zM336 247.4h1v1.31h-1zM338 247.63h1v1.31h-1zM340 247.86h1v1.31h-1zM342 248.09h1v1.31h-1zM344 248.33h1v1.31h-1zM346 248.56h1v1.31h-1zM348 248.79h1v1.31h-1zM350 249.02h1v1.31h-1zM352 249.25h1v1.31h-1zM354 249.49h1v1.31h-1zM356 249.72h1v1.31h-1zM358 249.95h1v1.31h-1zM360 250.18h1v1.31h-1zM362 250.41h1v1.31h-1z" fill="#18a0f0" fill-opacity="0.6"/>
<polyline points="312.9,250.6 319.46,246.9 326.02,248.6 332.58,247.6" fill="none" stroke="#18a0f0" stroke-width="1.4" stroke-linejoin="round"/>
<polyline points="365.38,251.4 371.94,258.7 378.5,252.6 385.06,251.9 391.62,256.1 398.18,254.3 404.74,252.4 411.3,254" fill="none" stroke="#18a0f0" stroke-width="1.4" stroke-linejoin="round"/>
<circle cx="312.9" cy="250.6" r="2" fill="#18a0f0"/>
<circle cx="319.46" cy="246.9" r="2" fill="#18a0f0"/>
<circle cx="326.02" cy="248.6" r="2" fill="#18a0f0"/>
<circle cx="332.58" cy="247.6" r="2" fill="#18a0f0"/>
<circle cx="365.38" cy="251.4" r="2" fill="#18a0f0"/>
<circle cx="371.94" cy="258.7" r="2" fill="#18a0f0"/>
<circle cx="378.5" cy="252.6" r="2" fill="#18a0f0"/>
<circle cx="385.06" cy="251.9" r="2" fill="#18a0f0"/>
<circle cx="391.62" cy="256.1" r="2" fill="#18a0f0"/>
<circle cx="398.18" cy="254.3" r="2" fill="#18a0f0"/>
<circle cx="404.74" cy="252.4" r="2" fill="#18a0f0"/>
<circle cx="411.3" cy="254" r="2" fill="#18a0f0"/>
<path d="M334 383.3h1v1.3h-1zM336 383.24h1v1.3h-1zM338 383.19h1v1.3h-1zM340 383.13h1v1.3h-1zM342 383.08h1v1.3h-1zM344 383.02h1v1.3h-1zM346 382.97h1v1.3h-1zM348 382.91h1v1.3h-1zM350 382.86h1v1.3h-1zM352 382.8h1v1.3h-1zM354 382.75h1v1.3h-1zM356 382.69h1v1.3h-1zM358 382.64h1v1.3h-1zM360 382.58h1v1.3h-1zM362 382.53h1v1.3h-1z" fill="#6c10d2" fill-opacity="0.6"/>
<polyline points="312.9,375.7 319.46,380.2 326.02,381 332.58,384" fill="none" stroke="#6c10d2" stroke-width="1.4" stroke-linejoin="round"/>
<polyline points="365.38,383.1 371.94,384.5 378.5,381.4 385.06,382.8 391.62,386.8 398.18,379.2 404.74,380.3 411.3,378.2" fill="none" stroke="#6c10d2" stroke-width="1.4" stroke-linejoin="round"/>
<circle cx="312.9" cy="375.7" r="2" fill="#6c10d2"/>
<circle cx="319.46" cy="380.2" r="2" fill="#6c10d2"/>
<circle cx="326.02" cy="381" r="2" fill="#6c10d2"/>
<circle cx="332.58" cy="384" r="2" fill="#6c10d2"/>
<circle cx="365.38" cy="383.1" r="2" fill="#6c10d2"/>
<circle cx="371.94" cy="384.5" r="2" fill="#6c10d2"/>
<circle cx="378.5" cy="381.4" r="2" fill="#6c10d2"/>
<circle cx="385.06" cy="382.8" r="2" fill="#6c10d2"/>
<circle cx="391.62" cy="386.8" r="2" fill="#6c10d2"/>
<circle cx="398.18" cy="379.2" r="2" fill="#6c10d2"/>
<circle cx="404.74" cy="380.3" r="2" fill="#6c10d2"/>
<circle cx="411.3" cy="378.2" r="2" fill="#6c10d2"/>
<path d="M465 126.67h1v1.3h-1zM467 126.83h1v1.3h-1zM469 126.99h1v1.3h-1zM471 127.14h1v1.3h-1zM473 127.3h1v1.3h-1zM475 127.46h1v1.3h-1zM477 127.62h1v1.3h-1zM479 127.78h1v1.3h-1zM481 127.94h1v1.3h-1zM483 128.1h1v1.3h-1zM485 128.25h1v1.3h-1zM487 128.41h1v1.3h-1zM489 128.57h1v1.3h-1zM491 128.73h1v1.3h-1zM493 128.89h1v1.3h-1z" fill="#14be63" fill-opacity="0.6"/>
<polyline points="444.3,134.4 450.86,134.6 457.42,126.6 463.98,127.2" fill="none" stroke="#14be63" stroke-width="1.4" stroke-linejoin="round"/>
<polyline points="496.78,129.8 503.34,133.4 509.9,112.7 516.46,97.2 523.02,116.4 529.58,83.5 536.14,95.4 542.7,85.4" fill="none" stroke="#14be63" stroke-width="1.4" stroke-linejoin="round"/>
<circle cx="444.3" cy="134.4" r="2" fill="#14be63"/>
<circle cx="450.86" cy="134.6" r="2" fill="#14be63"/>
<circle cx="457.42" cy="126.6" r="2" fill="#14be63"/>
<circle cx="463.98" cy="127.2" r="2" fill="#14be63"/>
<circle cx="496.78" cy="129.8" r="2" fill="#14be63"/>
<circle cx="503.34" cy="133.4" r="2" fill="#14be63"/>
<circle cx="509.9" cy="112.7" r="2" fill="#14be63"/>
<circle cx="516.46" cy="97.2" r="2" fill="#14be63"/>
<circle cx="523.02" cy="116.4" r="2" fill="#14be63"/>
<circle cx="529.58" cy="83.5" r="2" fill="#14be63"/>
<circle cx="536.14" cy="95.4" r="2" fill="#14be63"/>
<circle cx="542.7" cy="85.4" r="2" fill="#14be63"/>
<path d="M465 252.78h1v1.3h-1zM467 252.95h1v1.3h-1zM469 253.12h1v1.3h-1zM471 253.29h1v1.3h-1zM473 253.46h1v1.3h-1zM475 253.63h1v1.3h-1zM477 253.8h1v1.3h-1zM479 253.97h1v1.3h-1zM481 254.14h1v1.3h-1zM483 254.31h1v1.3h-1zM485 254.48h1v1.3h-1zM487 254.66h1v1.3h-1zM489 254.83h1v1.3h-1zM491 255h1v1.3h-1zM493 255.17h1v1.3h-1z" fill="#18a0f0" fill-opacity="0.6"/>
<polyline points="444.3,241 450.86,247.1 457.42,241.4 463.98,253.3" fill="none" stroke="#18a0f0" stroke-width="1.4" stroke-linejoin="round"/>
<polyline points="496.78,256.1 503.34,260.2 509.9,241.6 516.46,245.2 523.02,251.4 529.58,243.4 536.14,238.7 542.7,234.8" fill="none" stroke="#18a0f0" stroke-width="1.4" stroke-linejoin="round"/>
<circle cx="444.3" cy="241" r="2" fill="#18a0f0"/>
<circle cx="450.86" cy="247.1" r="2" fill="#18a0f0"/>
<circle cx="457.42" cy="241.4" r="2" fill="#18a0f0"/>
<circle cx="463.98" cy="253.3" r="2" fill="#18a0f0"/>
<circle cx="496.78" cy="256.1" r="2" fill="#18a0f0"/>
<circle cx="503.34" cy="260.2" r="2" fill="#18a0f0"/>
<circle cx="509.9" cy="241.6" r="2" fill="#18a0f0"/>
<circle cx="516.46" cy="245.2" r="2" fill="#18a0f0"/>
<circle cx="523.02" cy="251.4" r="2" fill="#18a0f0"/>
<circle cx="529.58" cy="243.4" r="2" fill="#18a0f0"/>
<circle cx="536.14" cy="238.7" r="2" fill="#18a0f0"/>
<circle cx="542.7" cy="234.8" r="2" fill="#18a0f0"/>
<path d="M465 383.82h1v1.3h-1zM467 383.79h1v1.3h-1zM469 383.75h1v1.3h-1zM471 383.71h1v1.3h-1zM473 383.68h1v1.3h-1zM475 383.64h1v1.3h-1zM477 383.6h1v1.3h-1zM479 383.57h1v1.3h-1zM481 383.53h1v1.3h-1zM483 383.49h1v1.3h-1zM485 383.46h1v1.3h-1zM487 383.42h1v1.3h-1zM489 383.38h1v1.3h-1zM491 383.35h1v1.3h-1zM493 383.31h1v1.3h-1z" fill="#6c10d2" fill-opacity="0.6"/>
<polyline points="444.3,374.6 450.86,381 457.42,373 463.98,384.5" fill="none" stroke="#6c10d2" stroke-width="1.4" stroke-linejoin="round"/>
<polyline points="496.78,383.9 503.34,387.2 509.9,381.2 516.46,380 523.02,385.4 529.58,368 536.14,366.8 542.7,358" fill="none" stroke="#6c10d2" stroke-width="1.4" stroke-linejoin="round"/>
<circle cx="444.3" cy="374.6" r="2" fill="#6c10d2"/>
<circle cx="463.98" cy="384.5" r="2" fill="#6c10d2"/>
<circle cx="496.78" cy="383.9" r="2" fill="#6c10d2"/>
<circle cx="503.34" cy="387.2" r="2" fill="#6c10d2"/>
<circle cx="509.9" cy="381.2" r="2" fill="#6c10d2"/>
<circle cx="516.46" cy="380" r="2" fill="#6c10d2"/>
<circle cx="523.02" cy="385.4" r="2" fill="#6c10d2"/>
<circle cx="529.58" cy="368" r="2" fill="#6c10d2"/>
<circle cx="536.14" cy="366.8" r="2" fill="#6c10d2"/>
<circle cx="542.7" cy="358" r="2" fill="#6c10d2"/>
<text transform="translate(10.4,388.44) rotate(-90)" class="y" textLength="44.37" lengthAdjust="spacingAndGlyphs">Seroprevalence</text>
<circle cx="411.6" cy="410" r="1.75" fill="#b2b2b2"/>
<text x="415.06" y="411.5" class="l" textLength="13.75" lengthAdjust="spacing">all ages</text>
<circle cx="435.6" cy="410" r="1.75" fill="#6c10d2"/>
<text x="439.01" y="411.5" class="l" textLength="27.73" lengthAdjust="spacing">18-24 years old</text>
<circle cx="474.8" cy="410" r="1.75" fill="#18a0f0"/>
<text x="478.02" y="411.5" class="l" textLength="28.72" lengthAdjust="spacing">25-49 years old</text>
<circle cx="514.8" cy="410" r="1.75" fill="#14be63"/>
<text x="518.03" y="411.5" class="l" textLength="24.71" lengthAdjust="spacing">&gt;50 years old</text>
</svg>
</body></html>
